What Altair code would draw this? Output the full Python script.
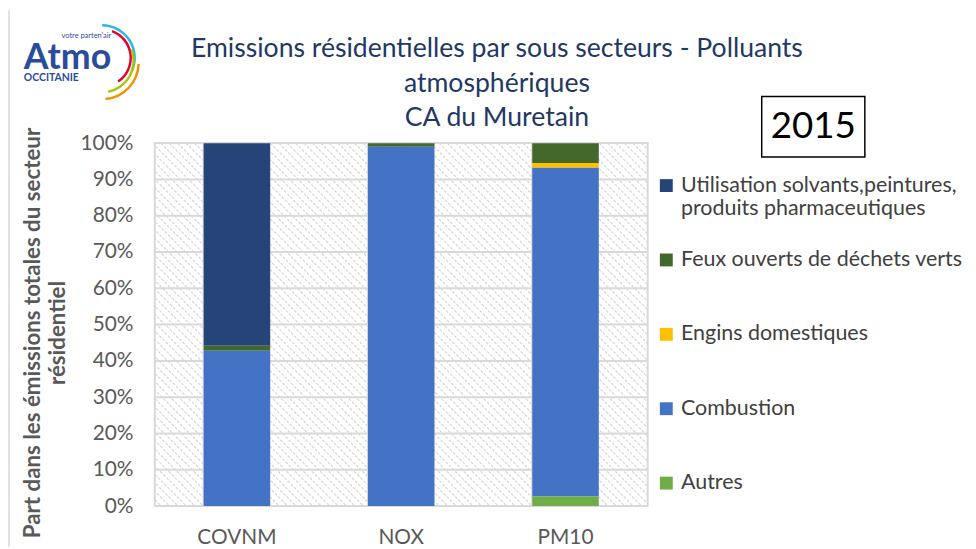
import altair as alt
import pandas as pd

# ---- data ----
polluants = ["COVNM", "NOX", "PM10"]
sous_secteurs = [
    "Utilisation solvants,peintures, produits pharmaceutiques",
    "Feux ouverts de déchets verts",
    "Engins domestiques",
    "Combustion",
    "Autres",
]
utilisation = [55.8, 0.0, 0.0]
feux = [1.4, 1.0, 5.5]
engins = [0.0, 0.0, 1.3]
combustion = [42.8, 99.0, 90.5]
autres = [0.0, 0.0, 2.7]
couleurs = ["#264478", "#43682b", "#ffc000", "#4472c4", "#70ad47"]
y_ticks = [0, 0.1, 0.2, 0.3, 0.4, 0.5, 0.6, 0.7, 0.8, 0.9, 1.0]
titre = ["Emissions résidentielles par sous secteurs - Polluants", "atmosphériques", "CA du Muretain"]
titre_y = ["Part dans les émissions totales du secteur", "résidentiel"]
annee = ["2015"]

series = [utilisation, feux, engins, combustion, autres]
rows = []
for s_i, (nom, vals) in enumerate(zip(sous_secteurs, series)):
    for p, v in zip(polluants, vals):
        rows.append({"Polluant": p, "Sous_secteur": nom, "Valeur": v,
                     "Ordre": len(sous_secteurs) - 1 - s_i})
df = pd.DataFrame(rows)

W, H = 497, 366
FONT = "Lato"
GRID = "#d9d9d9"
GREY = "#595959"

x_scale = alt.Scale(domain=polluants, paddingInner=0.595, paddingOuter=0.2975)
x_axis = alt.Axis(title=None, labelAngle=0, labelFontSize=21, labelColor=GREY,
                  labelFont=FONT, labelPadding=21, ticks=False, domain=False, grid=False)
y_axis = alt.Axis(format=".0%", values=y_ticks, title=titre_y, titleFontSize=22.5,
                  titleFont=FONT, titleFontWeight="bold", titleColor=GREY,
                  titlePadding=11, titleY=191, labelFontSize=21, labelFont=FONT,
                  labelColor=GREY, labelPadding=22, ticks=False, domain=False, grid=False)
y_scale = alt.Scale(domain=[0, 1])

hatch = alt.Chart(alt.sequence(-368, 500, 8.5, as_="k")).transform_calculate(
    k2="datum.k + 366"
).mark_rule(clip=True, color=GRID, strokeWidth=1.3, strokeDash=[3, 1.5]).encode(
    x=alt.X("k:Q", scale=None, axis=None),
    x2="k2:Q",
    y=alt.value(0),
    y2=alt.value(H),
)

hgrid = alt.Chart(pd.DataFrame({"g": y_ticks})).mark_rule(color=GRID, strokeWidth=2).encode(
    y=alt.Y("g:Q", scale=y_scale, axis=y_axis)
)

vgrid = alt.Chart(pd.DataFrame({"Polluant": polluants})).mark_rule(color=GRID, strokeWidth=2).encode(
    x=alt.X("Polluant:N", sort=polluants, scale=x_scale, axis=x_axis, bandPosition=0),
    y=alt.value(0),
    y2=alt.value(H),
)

bars = alt.Chart(df).mark_bar().encode(
    x=alt.X("Polluant:N", sort=polluants, scale=x_scale, axis=x_axis),
    y=alt.Y("Valeur:Q", stack="normalize", scale=y_scale, axis=y_axis),
    color=alt.Color(
        "Sous_secteur:N",
        scale=alt.Scale(domain=sous_secteurs, range=couleurs),
        legend=alt.Legend(
            title=None, orient="none", legendX=505, legendY=32,
            symbolType="square", symbolSize=169, symbolStrokeWidth=0,
            labelFont=FONT, labelFontSize=21.6, labelColor="#404040",
            labelOffset=4, rowPadding=29, labelLimit=400,
            labelExpr="indexof(datum.label, ', produits') > 0 ? split(replace(datum.label, ', produits', ',|produits'), '|') : [datum.label, '']",
        ),
    ),
    order=alt.Order("Ordre:Q"),
    tooltip=["Polluant", "Sous_secteur", "Valeur"],
)

ttl = pd.DataFrame({"t": ["\n".join(titre)]})
title_txt = alt.Chart(ttl).mark_text(
    font=FONT, fontSize=26.8, color="#1f3864", lineBreak="\n", lineHeight=35,
    align="center", baseline="alphabetic"
).encode(x=alt.value(345), y=alt.value(-87), text="t:N")

ann = pd.DataFrame({"annee": annee})
box = alt.Chart(ann).mark_rect(fill="white", stroke="black", strokeWidth=1.5).encode(
    x=alt.value(612), x2=alt.value(716), y=alt.value(-47), y2=alt.value(14)
)
box_txt = alt.Chart(ann).mark_text(font=FONT, fontSize=37, color="black").encode(
    x=alt.value(664), y=alt.value(-16), text="annee:N"
)

logo = pd.DataFrame({"a": ["Atmo"], "b": ["OCCITANIE"], "c": ["votre parten'air"]})
logo_a = alt.Chart(logo).mark_text(font=FONT, fontSize=36, fontWeight="bold", color="#2b4c9b",
                                   align="left", baseline="alphabetic").encode(
    x=alt.value(-132), y=alt.value(-75), text="a:N")
logo_b = alt.Chart(logo).mark_text(font=FONT, fontSize=10.5, fontWeight="bold", color="#2b4c9b",
                                   align="left", baseline="alphabetic").encode(
    x=alt.value(-132), y=alt.value(-63), text="b:N")
logo_c = alt.Chart(logo).mark_text(font=FONT, fontSize=7.5, color="#2b4c9b",
                                   align="left", baseline="alphabetic").encode(
    x=alt.value(-94), y=alt.value(-106), text="c:N")
arc_cols = ["#29b6e8", "#e4003a", "#a8c700", "#f39200"]
arc_r = [34, 30, 33, 38]
arc_t = [(0.0, 2.0), (0.35, 2.55), (1.2, 2.95), (1.6, 3.05)]
arc_cy = [-86, -86, -83, -81]
arcs = []
for c, r, (t0, t1), cy in zip(arc_cols, arc_r, arc_t, arc_cy):
    arcs.append(alt.Chart(logo).mark_arc(color=c, innerRadius=r - 2.5, outerRadius=r).encode(
        x=alt.value(-53), y=alt.value(cy), theta=alt.value(t0), theta2=alt.value(t1)))

frame = alt.Chart(logo).mark_rule(color="#d9d9d9", strokeWidth=1.5).encode(
    x=alt.value(-147), y=alt.value(-134), y2=alt.value(H + 41))

chart = alt.layer(
    hatch, hgrid, vgrid, bars, title_txt, box, box_txt, logo_a, logo_b, logo_c, *arcs, frame
).properties(
    width=W, height=H,
    padding={"left": 148, "top": 134, "right": 323, "bottom": 41},
    autosize=alt.AutoSizeParams(type="none"),
).configure_view(stroke=GRID, strokeWidth=2)

chart.save("out.html", embed_options={"renderer": "svg", "actions": False})
